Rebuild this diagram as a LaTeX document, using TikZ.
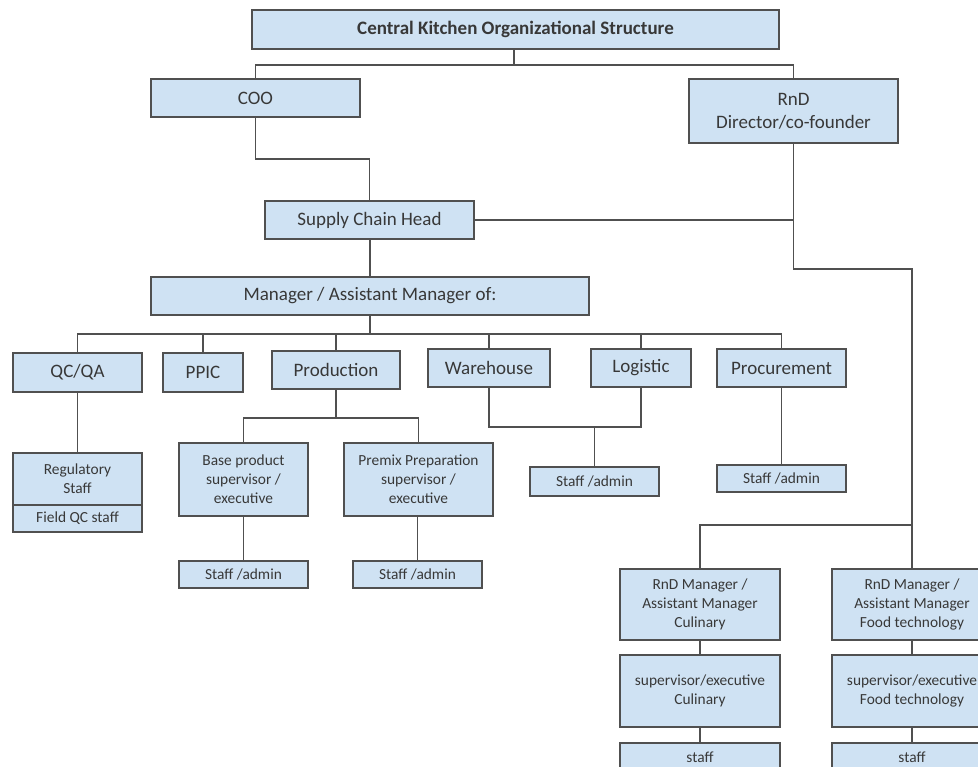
\documentclass[tikz,border=0pt]{standalone}
\usepackage{fontspec}
\setmainfont{Carlito}
\definecolor{boxfill}{HTML}{CFE2F3}
\definecolor{boxline}{HTML}{505050}
\definecolor{txt}{HTML}{383838}
\begin{document}
\begin{tikzpicture}[x=1pt,y=-1pt,
  box/.style={draw=boxline,fill=boxfill,line width=1.6pt,inner sep=0pt,align=center,text=txt,
    font=\fontsize{19}{23}\selectfont},
  sbox/.style={box,font=\fontsize{15.4}{19}\selectfont},
  conn/.style={draw=boxline,line width=1.5pt}]
\useasboundingbox (0,0) rectangle (978,767);
\clip (0,0) rectangle (978,767);
% nodes
\node[box,minimum width=527pt,minimum height=39pt,font=\bfseries\fontsize{19}{23}\selectfont] (title) at (515.5,29.5) {Central Kitchen Organizational Structure};
\node[box,minimum width=209pt,minimum height=38pt] (coo) at (255.5,98) {COO};
\node[box,minimum width=209pt,minimum height=64pt] (rnd) at (793.5,111) {RnD\\Director/co-founder};
\node[box,minimum width=209pt,minimum height=38pt] (sch) at (369.5,220) {Supply Chain Head};
\node[box,minimum width=438pt,minimum height=38pt] (mgr) at (370,296) {Manager / Assistant Manager of:};
\node[box,minimum width=129pt,minimum height=39pt] (qc) at (77.5,372.5) {QC/QA};
\node[box,minimum width=80pt,minimum height=39pt] (ppic) at (203,372.5) {PPIC};
\node[box,minimum width=128pt,minimum height=38pt] (prod) at (336,370) {Production};
\node[box,minimum width=122pt,minimum height=38pt] (wh) at (489,368) {Warehouse};
\node[box,minimum width=100pt,minimum height=38pt] (log) at (641,368) {Logistic};
\node[box,minimum width=129pt,minimum height=38pt] (proc) at (781.5,368) {Procurement};
\node[sbox,minimum width=129pt,minimum height=52pt] (reg) at (77.5,479) {Regulatory\\Staff};
\node[sbox,minimum width=129pt,minimum height=27pt] (fqc) at (77.5,518.5) {Field QC staff};
\node[sbox,minimum width=129pt,minimum height=73pt] (base) at (243.5,479.5) {Base product\\supervisor /\\executive};
\node[sbox,minimum width=149pt,minimum height=73pt] (premix) at (418.5,479.5) {Premix Preparation\\supervisor /\\executive};
\node[sbox,minimum width=129pt,minimum height=27pt] (bstaff) at (243.5,574.5) {Staff /admin};
\node[sbox,minimum width=129pt,minimum height=27pt] (pstaff) at (417.5,574.5) {Staff /admin};
\node[sbox,minimum width=129pt,minimum height=29pt] (lstaff) at (594.5,481.5) {Staff /admin};
\node[sbox,minimum width=129pt,minimum height=27pt] (pcstaff) at (781.5,478.5) {Staff /admin};
\node[sbox,minimum width=160pt,minimum height=71pt] (culmgr) at (700,604.5) {RnD Manager /\\Assistant Manager\\Culinary};
\node[sbox,minimum width=160pt,minimum height=72pt] (culsup) at (700,691) {supervisor/executive\\Culinary};
\node[sbox,minimum width=160pt,minimum height=29pt] (culstaff) at (700,757.5) {staff};
\node[sbox,minimum width=160pt,minimum height=71pt] (ftmgr) at (912,604.5) {RnD Manager /\\Assistant Manager\\Food technology};
\node[sbox,minimum width=160pt,minimum height=72pt] (ftsup) at (912,691) {supervisor/executive\\Food technology};
\node[sbox,minimum width=160pt,minimum height=29pt] (ftstaff) at (912,757.5) {staff};
% junction coordinates
\coordinate (j1) at (514,65);
\coordinate (j2) at (0,159);
\coordinate (j3) at (0,269);
\coordinate (j4) at (912,525);
\coordinate (j5) at (370,334);
\coordinate (j6) at (0,418);
\coordinate (j7) at (0,427);
% connectors
\draw[conn] (title.south -| j1) -- (j1);
\draw[conn] (coo.north) |- (j1) -| (rnd.north);
\draw[conn] (coo.south) -- (coo.south |- j2) -| (sch.north);
\draw[conn] (sch.east) -- (sch.east -| rnd.south);
\draw[conn] (rnd.south) |- (j3 -| j4) -- (ftmgr.north);
\draw[conn] (culmgr.north) |- (j4);
\draw[conn] (sch.south -| mgr.north) -- (mgr.north);
\draw[conn] (mgr.south) -- (j5);
\draw[conn] (qc.north) |- (j5 -| proc.north) -- (proc.north);
\draw[conn] (ppic.north) -- (ppic.north |- j5);
\draw[conn] (prod.north) -- (prod.north |- j5);
\draw[conn] (wh.north) -- (wh.north |- j5);
\draw[conn] (log.north) -- (log.north |- j5);
\draw[conn] (qc.south) -- (reg.north);
\draw[conn] (prod.south) -- (prod.south |- j6);
\draw[conn] (base.north) |- (premix.north |- j6) -- (premix.north);
\draw[conn] (base.south) -- (bstaff.north);
\draw[conn] (premix.south -| pstaff.north) -- (pstaff.north);
\draw[conn] (wh.south) |- (log.south |- j7) -- (log.south);
\draw[conn] (lstaff.north) -- (lstaff.north |- j7);
\draw[conn] (proc.south) -- (pcstaff.north);
\draw[conn] (culmgr.south) -- (culsup.north);
\draw[conn] (culsup.south) -- (culstaff.north);
\draw[conn] (ftmgr.south) -- (ftsup.north);
\draw[conn] (ftsup.south) -- (ftstaff.north);
\end{tikzpicture}
\end{document}
